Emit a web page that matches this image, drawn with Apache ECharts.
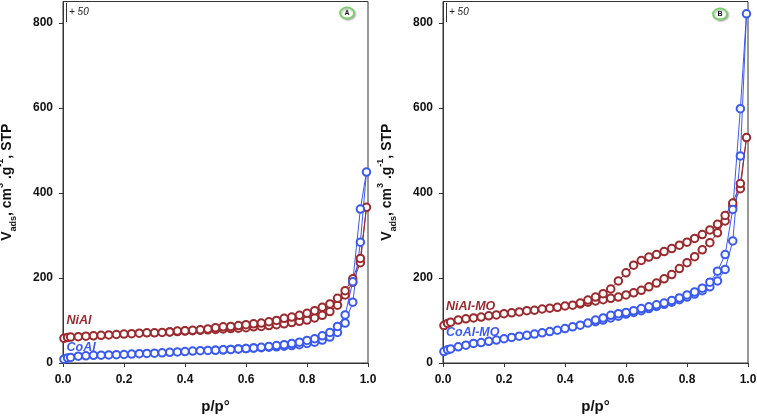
<!DOCTYPE html>
<html><head><meta charset="utf-8">
<script src="https://cdn.jsdelivr.net/npm/echarts@6/dist/echarts.min.js"></script>
<style>html,body{margin:0;padding:0;background:#fff}#c{width:757px;height:416px}</style>
</head><body><div id="c"></div>
<script>
// relative pressure, adsorption branch (shared by all samples)
const pAds = [0.003,0.015,0.025,0.05,0.075,0.1,0.125,0.15,0.175,0.2,0.225,0.25,0.275,0.3,0.325,0.35,0.375,0.4,0.425,0.45,0.475,0.5,0.525,0.55,0.575,0.6,0.625,0.65,0.675,0.7,0.725,0.75,0.775,0.8,0.825,0.85,0.875,0.9,0.925,0.95,0.975,0.995];
// Panel A
const niAlAds = [58,60,61,62,63,64,65,66,67,68,69,70,71,71,72,73,74,75,76,77,78,79,80,81,82,83,85,86,88,90,92,95,98,101,106,112,121,136,160,190,236,366];
const niAlDesP = [0.975,0.95,0.925,0.9,0.875,0.85,0.825,0.8,0.775,0.75,0.725,0.7,0.675,0.65,0.625,0.6,0.575,0.55,0.525,0.5,0.475,0.45,0.425,0.4,0.375,0.35];
const niAlDes = [246,198,170,152,139,131,123,117,112,108,105,100,97,94,92,90,88,86,85,83,80,78,77,76,75,73];
const coAlAds = [9,12,13,16,17,18,18.5,19,19.5,20,21,22,22.5,23,24,25,26,27,28,29,29.5,30,31,32,33,34,35,36,37,38,39.5,41,43,46,49,54,61,72,94,143,284,449];
const coAlDesP = [0.975,0.95,0.925,0.9,0.875,0.85,0.825,0.8,0.775,0.75,0.725,0.7,0.675,0.65,0.625,0.6,0.575,0.55,0.525,0.5];
const coAlDes = [362,191,113,86,72,64,57,53,49,46,43,41,39,37,35.5,34,33,32,31,30];
// Panel B
const niAlMOAds = [88,93,96,101,104,106,108,111,113,116,118,120,123,124,127,129,131,134,136,139,143,146,149,152,155,160,165,171,179,188,198,208,222,236,250,266,283,306,334,369,410,530];
const niAlMODesP = [0.975,0.95,0.925,0.9,0.875,0.85,0.825,0.8,0.775,0.75,0.725,0.7,0.675,0.65,0.625,0.6,0.575,0.55,0.525,0.5,0.475,0.45];
const niAlMODes = [422,376,347,326,313,302,293,284,277,269,262,255,249,241,230,212,193,174,163,155,148,141];
const coAlMOAds = [27,31,33,38,42,46,48,51,54,57,60,63,65,68,71,74,77,81,85,89,94,97,101,106,110,115,119,123,128,133,138,143,149,155,162,170,179,193,220,287,487,821];
const coAlMODesP = [0.975,0.95,0.925,0.9,0.875,0.85,0.825,0.8,0.775,0.75,0.725,0.7,0.675,0.65,0.625,0.6,0.575,0.55,0.525,0.5];
const coAlMODes = [598,361,255,216,190,176,167,160,153,147,141,137,132,128,123,119,116,112,106,101];
const xTicks = [0,0.2,0.4,0.6,0.8,1.0];
const yTicks = [0,200,400,600,800];

const RED = '#9b2a2e', BLUE = '#3a5af0';
function loop(pa, va, pd, vd){
  const d = pa.map((p,i)=>[p,va[i]]);
  pd.forEach((p,i)=>d.push([p,vd[i]]));
  return d;
}
function ser(name, data, color, idx){
  return {name, type:'line', xAxisIndex:idx, yAxisIndex:idx, data,
    symbol:'emptyCircle', symbolSize:7.5, showSymbol:true,
    lineStyle:{color, width:1}, itemStyle:{color, borderColor:color, borderWidth:1.3},
    animation:false, z:3};
}
const tickFont = {fontFamily:'Liberation Sans, Arial, sans-serif', fontWeight:'bold', fontSize:12, color:'#111'};
const yName = '{a|V}{s|ads}{a|, cm}{u|3}{a| .g}{u|-1}{a|, STP}';
const yRich = {
  a:{fontSize:14, fontWeight:'bold', fontFamily:'Liberation Sans, Arial, sans-serif', color:'#111', lineHeight:22},
  s:{fontSize:9, fontWeight:'bold', fontFamily:'Liberation Sans, Arial, sans-serif', color:'#111', verticalAlign:'bottom', lineHeight:22},
  u:{fontSize:9, fontWeight:'bold', fontFamily:'Liberation Sans, Arial, sans-serif', color:'#111', verticalAlign:'top', lineHeight:22}
};
function xAx(idx){
  return {gridIndex:idx, type:'value', min:0, max:1, interval:0.2,
    name:'p/p°', nameLocation:'middle', nameGap:36,
    nameTextStyle:{fontSize:15, fontWeight:'bold', fontFamily:'Liberation Sans, Arial, sans-serif', color:'#111'},
    axisLine:{show:true, lineStyle:{color:'#333', width:1}},
    axisTick:{show:true, inside:false, length:4, lineStyle:{color:'#333'}},
    axisLabel:{...tickFont, margin:11, formatter:v=>v.toFixed(1)},
    splitLine:{show:false}};
}
function yAx(idx){
  return {gridIndex:idx, type:'value', min:0, max:850, interval:200,
    name:yName, nameLocation:'middle', nameGap:45, nameRotate:90,
    nameTextStyle:{rich:yRich},
    axisLine:{show:true, lineStyle:{color:'#333', width:1}},
    axisTick:{show:true, inside:false, length:4, lineStyle:{color:'#333'}},
    axisLabel:{...tickFont, margin:10, showMaxLabel:false},
    splitLine:{show:false}};
}
function badge(cx, cy, letter){
  return [
    {type:'ellipse', shape:{cx, cy, rx:7, ry:5.5}, style:{fill:'#fff', stroke:'#7ad36a', lineWidth:1.8, shadowBlur:2, shadowColor:'rgba(0,0,0,0.3)', shadowOffsetX:1, shadowOffsetY:1}, z:10},
    {type:'text', x:cx, y:cy, style:{text:letter, fontSize:7, fontWeight:'bold', fontFamily:'Liberation Sans, Arial, sans-serif', fill:'#111', align:'center', verticalAlign:'middle'}, z:11}
  ];
}
function plus50(x){
  return [
    {type:'line', shape:{x1:x, y1:3, x2:x, y2:22}, style:{stroke:'#333', lineWidth:1}, z:10},
    {type:'text', x:x+2.5, y:12, style:{text:'+ 50', fontSize:10, fontStyle:'italic', fontFamily:'Liberation Sans, Arial, sans-serif', fill:'#222', verticalAlign:'middle'}, z:10}
  ];
}
function lbl(x, y, t, color){
  return {type:'text', x, y, style:{text:t, fontSize:12.5, fontWeight:'bold', fontStyle:'italic', fontFamily:'Liberation Sans, Arial, sans-serif', fill:color, verticalAlign:'middle'}, z:10};
}

const chart = echarts.init(document.getElementById('c'));
chart.setOption({
  animation:false,
  backgroundColor:'#fff',
  grid:[
    {left:63, right:389, top:1.5, bottom:53, outerBoundsMode:'none', containLabel:false, show:true, borderColor:'#333', borderWidth:1, backgroundColor:'transparent'},
    {left:443, right:9, top:1.5, bottom:53, outerBoundsMode:'none', containLabel:false, show:true, borderColor:'#333', borderWidth:1, backgroundColor:'transparent'}
  ],
  xAxis:[xAx(0), xAx(1)],
  yAxis:[yAx(0), yAx(1)],
  series:[
    ser('NiAl', loop(pAds, niAlAds, niAlDesP, niAlDes), RED, 0),
    ser('CoAl', loop(pAds, coAlAds, coAlDesP, coAlDes), BLUE, 0),
    ser('NiAl-MO', loop(pAds, niAlMOAds, niAlMODesP, niAlMODes), RED, 1),
    ser('CoAl-MO', loop(pAds, coAlMOAds, coAlMODesP, coAlMODes), BLUE, 1)
  ],
  graphic:[
    ...plus50(66.5), ...plus50(446.5),
    ...badge(347, 13, 'A'), ...badge(720, 14, 'B'),
    lbl(66.5, 321, 'NiAl', RED), lbl(66.5, 348, 'CoAl', BLUE),
    lbl(446, 307, 'NiAl-MO', RED), lbl(446, 333, 'CoAl-MO', BLUE)
  ]
});
</script></body></html>
